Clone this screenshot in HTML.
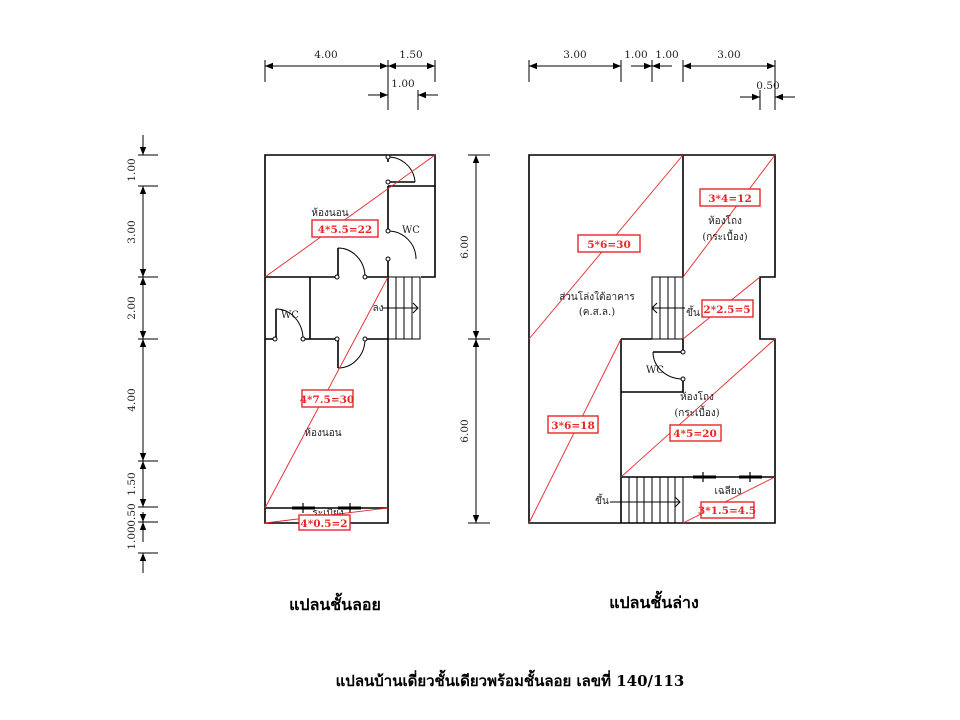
<!DOCTYPE html>
<html><head><meta charset="utf-8"><style>
html,body{margin:0;padding:0;background:#fff;}
svg{display:block}
text{font-family:"DejaVu Serif","Liberation Serif",serif;}
.w{stroke:#000;stroke-width:1.6;fill:none}
.t{stroke:#000;stroke-width:1;fill:none}
.r{stroke:#e8262a;stroke-width:0.9;fill:none}
.bx{stroke:#e8262a;stroke-width:1.4;fill:#fff}
.lb{fill:#e8262a;font-weight:bold;font-size:10.5px;text-anchor:middle}
.th{font-size:10px;fill:#222;text-anchor:middle}
.dm{font-size:10.5px;fill:#222;text-anchor:middle}
</style></head><body>
<svg width="960" height="720" viewBox="0 0 960 720" xmlns="http://www.w3.org/2000/svg">
<defs>
<marker id="a" viewBox="0 0 10 10" refX="10" refY="5" markerWidth="10" markerHeight="8" orient="auto-start-reverse" markerUnits="userSpaceOnUse"><path d="M0,1 L10,5 L0,9z" fill="#000"/></marker>
</defs>

<g class="t">
<line x1="265" y1="60" x2="265" y2="82"/><line x1="388" y1="60" x2="388" y2="110"/><line x1="435" y1="60" x2="435" y2="82"/>
<line x1="418" y1="90" x2="418" y2="110"/>
<line x1="265" y1="66" x2="388" y2="66" marker-start="url(#a)" marker-end="url(#a)"/>
<line x1="388" y1="66" x2="435" y2="66" marker-start="url(#a)" marker-end="url(#a)"/>
<line x1="368" y1="95" x2="388" y2="95" marker-end="url(#a)"/>
<line x1="438" y1="95" x2="418" y2="95" marker-end="url(#a)"/>
</g>
<text class="dm" x="326" y="58">4.00</text>
<text class="dm" x="411" y="58">1.50</text>
<text class="dm" x="403" y="87">1.00</text>

<g class="t">
<line x1="138" y1="155" x2="158" y2="155"/><line x1="138" y1="186" x2="158" y2="186"/>
<line x1="138" y1="277" x2="158" y2="277"/><line x1="138" y1="339" x2="158" y2="339"/>
<line x1="138" y1="461" x2="158" y2="461"/><line x1="138" y1="507" x2="158" y2="507"/>
<line x1="138" y1="522" x2="158" y2="522"/><line x1="138" y1="553" x2="158" y2="553"/>
<line x1="143" y1="135" x2="143" y2="155" marker-end="url(#a)"/>
<line x1="143" y1="186" x2="143" y2="277" marker-start="url(#a)" marker-end="url(#a)"/>
<line x1="143" y1="277" x2="143" y2="339" marker-start="url(#a)" marker-end="url(#a)"/>
<line x1="143" y1="339" x2="143" y2="461" marker-start="url(#a)" marker-end="url(#a)"/>
<line x1="143" y1="461" x2="143" y2="507" marker-start="url(#a)" marker-end="url(#a)"/>
<line x1="143" y1="512" x2="143" y2="522" marker-end="url(#a)"/>
<line x1="143" y1="542" x2="143" y2="522" marker-end="url(#a)"/>
<line x1="143" y1="573" x2="143" y2="553" marker-end="url(#a)"/>
</g>
<g class="dm">
<text transform="translate(135,170) rotate(-90)">1.00</text>
<text transform="translate(135,232) rotate(-90)">3.00</text>
<text transform="translate(135,308) rotate(-90)">2.00</text>
<text transform="translate(135,400) rotate(-90)">4.00</text>
<text transform="translate(135,484) rotate(-90)">1.50</text>
<text transform="translate(135,515) rotate(-90)">0.50</text>
<text transform="translate(135,538) rotate(-90)">1.00</text>
</g>

<g class="w">
<path d="M265,277 V155 H435 V277 H421"/>
<path d="M388,186 H435"/>
<path d="M388,157 V162 M388,182 H415"/>
<path d="M388,186 V231 M388,259 V277"/>
<path d="M265,277 H338 M365,277 H388"/>
<path d="M338,277 V248"/>
<path d="M265,277 V523 H388 V277"/>
<path d="M310,277 V339"/>
<path d="M276,339 V309"/>
<path d="M265,339 H276 M302,339 H338 M365,339 H388"/>
<path d="M338,339 V368"/>
<path d="M265,508 H388"/>
</g>
<g class="t">
<path d="M388,157 A27,27 0 0 1 415,182"/>
<path d="M388,231 A28,28 0 0 1 416,259"/>
<path d="M338,248 A27,29 0 0 1 365,277"/>
<path d="M276,309 A27,30 0 0 1 303,339"/>
<path d="M365,339 A27,29 0 0 1 338,368"/>
<rect x="388" y="277" width="32" height="62"/>
<line x1="396" y1="277" x2="396" y2="339"/><line x1="404" y1="277" x2="404" y2="339"/><line x1="412" y1="277" x2="412" y2="339"/>
<line x1="382" y1="308" x2="417" y2="308"/><path d="M413,303 L418,308 L413,313"/>
</g>
<g fill="#fff" stroke="#000" stroke-width="1">
<circle cx="388" cy="157" r="2"/><circle cx="388" cy="182" r="2"/><circle cx="388" cy="231" r="2"/><circle cx="388" cy="259" r="2"/>
<circle cx="337" cy="277" r="2"/><circle cx="365" cy="277" r="2"/><circle cx="275" cy="339" r="2"/><circle cx="303" cy="339" r="2"/>
<circle cx="337" cy="339" r="2"/><circle cx="365" cy="339" r="2"/>
</g>
<g stroke="#000" stroke-width="3"><line x1="292" y1="508" x2="315" y2="508"/><line x1="338" y1="508" x2="361" y2="508"/></g>
<g stroke="#000" stroke-width="1.2"><line x1="303" y1="503" x2="303" y2="513"/><line x1="350" y1="503" x2="350" y2="513"/></g>

<g class="r">
<line x1="265" y1="277" x2="435" y2="155"/>
<line x1="265" y1="508" x2="388" y2="277"/>
<line x1="265" y1="523" x2="388" y2="508"/>
</g>
<text class="th" x="330" y="216">ห้องนอน</text>
<text class="th" x="411" y="233">WC</text>
<text class="th" x="290" y="318">WC</text>
<text class="th" x="378" y="311">ลง</text>
<text class="th" x="323" y="436">ห้องนอน</text>
<text class="th" x="328" y="516">ระเบียง</text>
<rect class="bx" x="312" y="220" width="66" height="17"/><text class="lb" x="345" y="233">4*5.5=22</text>
<rect class="bx" x="302" y="390" width="51" height="17"/><text class="lb" x="327" y="403">4*7.5=30</text>
<rect class="bx" x="299" y="515" width="51" height="15"/><text class="lb" x="324" y="527">4*0.5=2</text>

<g class="t">
<line x1="529" y1="60" x2="529" y2="82"/><line x1="621" y1="60" x2="621" y2="82"/>
<line x1="652" y1="60" x2="652" y2="82"/><line x1="683" y1="60" x2="683" y2="82"/>
<line x1="775" y1="60" x2="775" y2="110"/><line x1="760" y1="90" x2="760" y2="110"/>
<line x1="529" y1="66" x2="621" y2="66" marker-start="url(#a)" marker-end="url(#a)"/>
<line x1="631" y1="66" x2="652" y2="66" marker-end="url(#a)"/>
<line x1="672" y1="66" x2="652" y2="66" marker-end="url(#a)"/>
<line x1="683" y1="66" x2="775" y2="66" marker-start="url(#a)" marker-end="url(#a)"/>
<line x1="740" y1="97" x2="760" y2="97" marker-end="url(#a)"/>
<line x1="795" y1="97" x2="775" y2="97" marker-end="url(#a)"/>
</g>
<text class="dm" x="575" y="58">3.00</text>
<text class="dm" x="636" y="58">1.00</text>
<text class="dm" x="667" y="58">1.00</text>
<text class="dm" x="729" y="58">3.00</text>
<text class="dm" x="768" y="89">0.50</text>

<g class="t">
<line x1="468" y1="155" x2="490" y2="155"/><line x1="468" y1="339" x2="490" y2="339"/><line x1="468" y1="523" x2="490" y2="523"/>
<line x1="476" y1="155" x2="476" y2="339" marker-start="url(#a)" marker-end="url(#a)"/>
<line x1="476" y1="339" x2="476" y2="523" marker-start="url(#a)" marker-end="url(#a)"/>
</g>
<text class="dm" transform="translate(468,247) rotate(-90)">6.00</text>
<text class="dm" transform="translate(468,431) rotate(-90)">6.00</text>

<g class="w">
<path d="M529,523 V155 H775 V277 H760 V339 H775 V523 Z"/>
<path d="M683,155 V277"/>
<path d="M621,339 H652"/>
<path d="M621,339 V523"/>
<path d="M621,392 H683 V379 M683,352 V339"/>
<path d="M653,352 H683"/>
<path d="M621,477 H775"/>
</g>
<g class="t">
<path d="M653,352 A30,27 0 0 0 683,379"/>
<rect x="652" y="277" width="31" height="62"/>
<line x1="660" y1="277" x2="660" y2="339"/><line x1="668" y1="277" x2="668" y2="339"/><line x1="675" y1="277" x2="675" y2="339"/>
<line x1="652" y1="308" x2="685" y2="308"/><path d="M657,303 L652,308 L657,313"/>
<rect x="621" y="477" width="62" height="46"/>
<line x1="629" y1="477" x2="629" y2="523"/><line x1="637" y1="477" x2="637" y2="523"/><line x1="644" y1="477" x2="644" y2="523"/>
<line x1="652" y1="477" x2="652" y2="523"/><line x1="660" y1="477" x2="660" y2="523"/><line x1="668" y1="477" x2="668" y2="523"/><line x1="675" y1="477" x2="675" y2="523"/>
<line x1="610" y1="502" x2="680" y2="502"/><path d="M675,497 L680,502 L675,507"/>
</g>
<g fill="#fff" stroke="#000" stroke-width="1"><circle cx="683" cy="352" r="2"/><circle cx="683" cy="379" r="2"/></g>
<g stroke="#000" stroke-width="3"><line x1="693" y1="477" x2="716" y2="477"/><line x1="739" y1="477" x2="762" y2="477"/></g>
<g stroke="#000" stroke-width="1.2"><line x1="703" y1="472" x2="703" y2="482"/><line x1="750" y1="472" x2="750" y2="482"/></g>

<g class="r">
<line x1="529" y1="339" x2="683" y2="155"/>
<line x1="683" y1="277" x2="775" y2="155"/>
<line x1="683" y1="339" x2="760" y2="277"/>
<line x1="529" y1="523" x2="621" y2="339"/>
<line x1="621" y1="477" x2="775" y2="339"/>
<line x1="683" y1="523" x2="775" y2="477"/>
</g>
<text class="th" x="725" y="224">ห้องโถง</text>
<text class="th" x="725" y="240">(กระเบื้อง)</text>
<text class="th" x="597" y="300">ส่วนโล่งใต้อาคาร</text>
<text class="th" x="597" y="315">(ค.ส.ล.)</text>
<text class="th" x="693" y="316">ขึ้น</text>
<text class="th" x="655" y="373">WC</text>
<text class="th" x="697" y="400">ห้องโถง</text>
<text class="th" x="697" y="416">(กระเบื้อง)</text>
<text class="th" x="728" y="494">เฉลียง</text>
<text class="th" x="602" y="504">ขึ้น</text>
<rect class="bx" x="700" y="189" width="60" height="17"/><text class="lb" x="730" y="202">3*4=12</text>
<rect class="bx" x="578" y="235" width="62" height="17"/><text class="lb" x="609" y="248">5*6=30</text>
<rect class="bx" x="702" y="300" width="51" height="17"/><text class="lb" x="727" y="313">2*2.5=5</text>
<rect class="bx" x="548" y="416" width="50" height="17"/><text class="lb" x="573" y="429">3*6=18</text>
<rect class="bx" x="670" y="425" width="51" height="16"/><text class="lb" x="695" y="437">4*5=20</text>
<rect class="bx" x="701" y="502" width="53" height="16"/><text class="lb" x="727" y="514">3*1.5=4.5</text>

<text x="335" y="610" text-anchor="middle" style="font-size:16px;font-weight:bold">แปลนชั้นลอย</text>
<text x="654" y="608" text-anchor="middle" style="font-size:16px;font-weight:bold">แปลนชั้นล่าง</text>
<text x="510" y="686" text-anchor="middle" style="font-size:15px;font-weight:bold">แปลนบ้านเดี่ยวชั้นเดียวพร้อมชั้นลอย เลขที่ 140/113</text>
</svg>
</body></html>
